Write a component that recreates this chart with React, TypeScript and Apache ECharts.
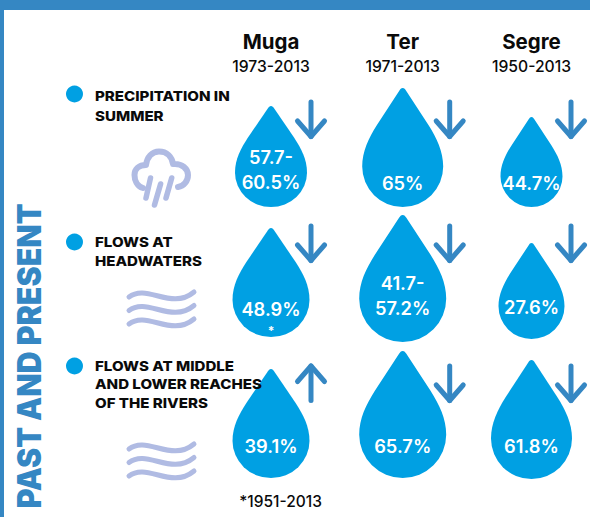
import React, { useEffect, useRef } from "react";
import * as echarts from "echarts";

// ---------- data ----------
const rivers = ["Muga", "Ter", "Segre"];
const periods = ["1973-2013", "1971-2013", "1950-2013"];
const rows = ["PRECIPITATION IN\nSUMMER", "FLOWS AT\nHEADWATERS", "FLOWS AT MIDDLE\nAND LOWER REACHES\nOF THE RIVERS"];
const chartTitle = "PAST AND PRESENT";
const footnote = "*1951-2013";

const precipitationLow = [57.7, 65, 44.7];
const precipitationHigh = [60.5, null, null];
const headwatersLow = [48.9, 41.7, 27.6];
const headwatersHigh = [null, 57.2, null];
const lowerReachesLow = [39.1, 65.7, 61.8];
const lowerReachesHigh = [null, null, null];
const precipitationTrend = ["down", "down", "down"];
const headwatersTrend = ["down", "down", "down"];
const lowerReachesTrend = ["up", "down", "down"];

const lows = [precipitationLow, headwatersLow, lowerReachesLow];
const highs = [precipitationHigh, headwatersHigh, lowerReachesHigh];
const trends = [precipitationTrend, headwatersTrend, lowerReachesTrend];

// ---------- layout & styles ----------
const FONT = "Inter";
const DROP = "#00a0e3";
const BLUE = "#3587c3";
const ICON = "#b0bbe3";
const INK = "#0a0a0a";

const colShift = [-0.5, 1.2, 0];
const rowBottomOffset = [56, 50, 51];
const dropH = [[101, 119, 90], [109, 127, 96], [109, 127, 119]];
const dropW = [[72, 81, 62], [77, 87, 66], [77, 87, 81]];
const bottomShift = [[0, 0, 0], [-2, 3, 0], [0, 0, 1]];
const labelUp = [[37.5, 24, 24], [28, 46.5, 32], [32, 32, 33]];
const arrowDX = [40, 47, 39.5];
const arrowTop = [102, 226, 366];

const DROP_PATH =
  "M50 0 C52 0 53 1.5 54 3 L82 46 C92 62 100 78 100 97 A50 50 0 0 1 0 97 C0 78 8 62 18 46 L46 3 C47 1.5 48 0 50 0 Z";
const CLOUD_PATH =
  "M143 188 C137 186 134.5 180 134.5 175 C134.5 169 139 165 146 165 C147 157 152 151.5 159 151.5 C167 151.5 172 157 173 164 C182 163 188 169 188 175 C188 181 184 186 178 187";

echarts.graphic.registerShape("cloud", echarts.graphic.extendPath(CLOUD_PATH, {}) as any);

const cells: { r: number; c: number }[] = [];
rows.forEach((_, r) => rivers.forEach((_, c) => cells.push({ r, c })));

const fmt = (lo: number, hi: number | null) => (hi == null ? `${lo}%` : `${lo}-\n${hi}%`);

function renderCell(params: any, api: any) {
  const { r, c } = cells[params.dataIndex];
  const [x0, y0] = api.coord([c, r]);
  const cx = x0 + colShift[c];
  const bottom = y0 + rowBottomOffset[r] + bottomShift[r][c];
  const h = dropH[r][c];
  const w = dropW[r][c];
  const ax = cx + arrowDX[c];
  const top = arrowTop[r];
  const down = trends[r][c] === "down";
  const len = 34.5;
  const tipY = down ? top + len : top;
  const endY = down ? top : top + len;
  const headY = down ? tipY - 15.5 : tipY + 15.5;
  const arrowStyle = { stroke: BLUE, lineWidth: 5, lineCap: "round", lineJoin: "round", fill: "none" };
  const children: any[] = [
    {
      type: "path",
      shape: { pathData: DROP_PATH, layout: "cover", x: cx - w / 2, y: bottom - h, width: w, height: h },
      style: { fill: DROP },
    },
    { type: "line", shape: { x1: ax, y1: endY, x2: ax, y2: tipY }, style: arrowStyle },
    {
      type: "polyline",
      shape: { points: [[ax - 13.5, headY], [ax, tipY], [ax + 13.5, headY]] },
      style: arrowStyle,
    },
    {
      type: "text",
      x: cx,
      y: bottom - labelUp[r][c],
      style: {
        text: fmt(lows[r][c], highs[r][c]),
        fill: "#ffffff",
        fontFamily: FONT,
        fontSize: 18.3,
        fontWeight: 600,
        lineHeight: 25,
        textAlign: "center",
        textVerticalAlign: "middle",
      },
    },
  ];
  if (r === 1 && c === 0) {
    children.push({
      type: "text",
      x: cx,
      y: bottom - 7,
      style: { text: "*", fill: "#ffffff", fontFamily: FONT, fontSize: 12, fontWeight: 700, textAlign: "center", textVerticalAlign: "middle" },
    });
  }
  return { type: "group", children };
}

function renderHeader(params: any, api: any) {
  const c = params.dataIndex;
  const [x0] = api.coord([c, 0]);
  const cx = x0 + colShift[c];
  return {
    type: "group",
    children: [
      {
        type: "text",
        x: cx,
        y: 41,
        style: { text: rivers[c], fill: INK, fontFamily: FONT, fontSize: 20.5, fontWeight: 700, textAlign: "center", textVerticalAlign: "middle" },
      },
      {
        type: "text",
        x: cx,
        y: 66,
        style: { text: periods[c], fill: INK, fontFamily: FONT, fontSize: 15.7, fontWeight: 500, textAlign: "center", textVerticalAlign: "middle" },
      },
    ],
  };
}

const rowTextTop = [86, 232, 356];
const rowLineHeight = [20, 19, 18.7];
const bullets = [94, 242, 366];
const waveTops = [297, 449];

function wave(x: number, y: number) {
  return {
    type: "bezierCurve",
    z: 100,
    shape: { x1: x, y1: y, cpx1: x + 18, cpy1: y - 14, cpx2: x + 42, cpy2: y + 14, x2: x + 65, y2: y - 5 },
    style: { stroke: ICON, lineWidth: 5, lineCap: "round", fill: "none" },
  };
}

function rain(x1: number, y1: number, x2: number, y2: number) {
  return {
    type: "line",
    z: 100,
    shape: { x1, y1, x2, y2 },
    style: { stroke: ICON, lineWidth: 5.5, lineCap: "round" },
  };
}

function buildGraphic() {
  const els: any[] = [
    { type: "rect", z: 100, shape: { x: 0, y: 0, width: 590, height: 10 }, style: { fill: BLUE } },
    { type: "rect", z: 100, shape: { x: 0, y: 0, width: 4, height: 517 }, style: { fill: BLUE } },
    {
      type: "text",
      z: 100,
      x: 29.5,
      y: 356,
      rotation: Math.PI / 2,
      scaleX: 0.935,
      style: { text: chartTitle, fill: BLUE, fontFamily: FONT, fontSize: 32.5, fontWeight: 900, textAlign: "center", textVerticalAlign: "middle" },
    },
    {
      type: "text",
      z: 100,
      x: 280.5,
      y: 501,
      style: { text: footnote, fill: INK, fontFamily: FONT, fontSize: 15.5, fontWeight: 500, textAlign: "center", textVerticalAlign: "middle" },
    },
    { type: "cloud", z: 100, style: { stroke: ICON, lineWidth: 6, lineCap: "round", lineJoin: "round", fill: "none" } },
    rain(150.5, 178, 146, 198),
    rain(160.6, 184, 154.5, 205),
    rain(171.7, 178, 166, 198),
  ];
  rows.forEach((t, i) => {
    els.push({ type: "circle", z: 100, shape: { cx: 74.5, cy: bullets[i], r: 8.5 }, style: { fill: DROP } });
    els.push({
      type: "text",
      z: 100,
      x: 95,
      y: rowTextTop[i],
      scaleX: 1.11,
      style: { text: t, fill: INK, fontFamily: FONT, fontSize: 13.6, fontWeight: 800, lineHeight: rowLineHeight[i], textAlign: "left", textVerticalAlign: "top" },
    });
  });
  waveTops.forEach((y) => {
    [0, 13.5, 27].forEach((d) => els.push(wave(129, y + d)));
  });
  return els;
}

export default function App() {
  const ref = useRef<HTMLDivElement>(null);
  useEffect(() => {
    document.body.style.margin = "0";
    const chart = echarts.init(ref.current!, undefined, { renderer: "svg" });
    chart.setOption({
      animation: false,
      backgroundColor: "#ffffff",
      grid: { left: 206.5, width: 390, top: 82, height: 414, outerBoundsMode: "none" },
      xAxis: { type: "category", data: rivers, show: false },
      yAxis: { type: "category", data: rows, inverse: true, show: false },
      tooltip: { show: false },
      graphic: { elements: buildGraphic() },
      series: [
        {
          type: "custom",
          coordinateSystem: "cartesian2d",
          clip: false,
          silent: true,
          encode: { x: 0, y: 1 },
          data: cells.map((d) => [d.c, d.r]),
          renderItem: renderCell,
        },
        {
          type: "custom",
          coordinateSystem: "cartesian2d",
          clip: false,
          silent: true,
          encode: { x: 0, y: 1 },
          data: rivers.map((_, c) => [c, 0]),
          renderItem: renderHeader,
        },
      ],
    });
    return () => chart.dispose();
  }, []);
  return <div ref={ref} style={{ position: "fixed", left: 0, top: 0, width: 590, height: 517 }} />;
}
